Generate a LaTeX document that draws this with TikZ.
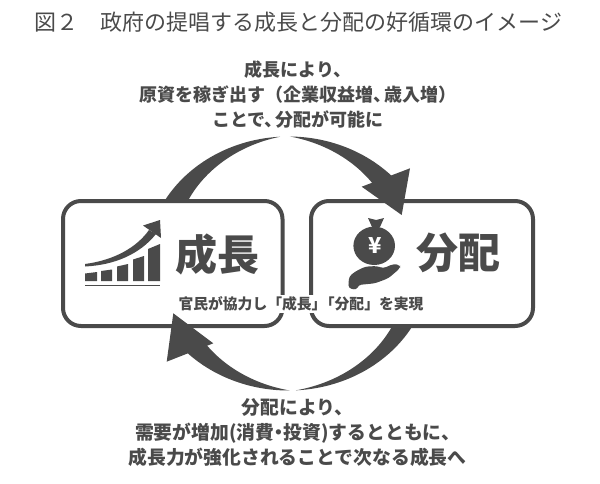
\documentclass[tikz,border=0pt]{standalone}
\usepackage{fontspec}
\setmainfont{Noto Sans CJK JP}
\usetikzlibrary{calc}
\definecolor{diagray}{HTML}{4A4A4A}
\def\ringx{288.5}
\def\ringy{219.5}
\def\ringa{142.5}
\def\ringb{127}
\def\crescent(#1:#2:#3){\fill[diagray] plot[domain=#1:#2,samples=60] ({\ringx+\ringa*cos(\x)},{\ringy+\ringb*sin(\x)}) -- plot[domain=#2:#1,samples=60] ({\ringx+(\ringa-#3*(\x-(#1))/((#2)-(#1)))*cos(\x)},{\ringy+(\ringb-#3*(\x-(#1))/((#2)-(#1)))*sin(\x)}) -- cycle;}
\tikzset{
	bigbox/.style={draw=diagray, line width=2pt, fill=white, rounded corners=9pt, minimum height=62.5pt, inner sep=0pt},
	caption/.style={text=diagray, align=center, font=\bfseries},
	biglabel/.style={text=diagray, font=\fontsize{21}{21}\selectfont\bfseries}
}
\begin{document}
\begin{tikzpicture}[x=0.5pt, y=0.5pt]
			%%%%% START %%%%%
			\useasboundingbox (0,0) rectangle (600,483);
			
			\node[text=diagray, font=\fontsize{11}{13}\selectfont] (title) at (298.5,461) {図２　政府の提唱する成長と分配の好循環のイメージ};
			
			% ring of arrows
			\crescent(93.4:158:24)
			\crescent(89.4:40:21.5)
			\crescent(-87:-22:20.5)
			\crescent(-89.4:-137:21)
			
			\node[bigbox, minimum width=109.75pt] (growbox) at (172.75,219.5) {};
			\node[bigbox, minimum width=111pt] (distbox) at (422,219.5) {};
			
			\fill[diagray] (361.7,296.3) -- (410,314.7) -- (401.7,268) -- cycle;
			\fill[diagray] (173.3,169.7) -- (166.7,121.3) -- (213.3,139.7) -- cycle;
			
			% growth chart
			\draw[diagray, line width=0.75pt] (85,197.5) -- (160,197.5);
			\fill[diagray] (85,202) -- (97,202) -- (97,211) -- (85,209.5) -- cycle;
			\fill[diagray] (101,202) -- (112,202) -- (112,213.5) -- (101,212) -- cycle;
			\fill[diagray] (117,202) -- (128,202) -- (128,219) -- (117,216.5) -- cycle;
			\fill[diagray] (133,202) -- (144,202) -- (144,227) -- (133,223.5) -- cycle;
			\fill[diagray] (148,202) -- (160,202) -- (160,239) -- (148,234) -- cycle;
			\fill[diagray] (85,219) .. controls (115,223) and (137,236) .. (149,253) -- (156,249) .. controls (140,229) and (115,218) .. (85,216.5) -- cycle;
			\fill[diagray] (160,263) -- (143,257.5) -- (161,245) -- cycle;
			
			% money bag and hand
			\fill[diagray] (374.2,237.2) ellipse [x radius=20.8, y radius=19.2];
			\fill[diagray] (368,265) -- (376,263) -- (384,265) -- (380,256) -- (372,256) -- cycle;
			\node[text=white, font=\fontsize{11}{11}\selectfont\bfseries] (yen) at (375,237) {¥};
			\fill[diagray, rounded corners=1.5] (348.3,195) -- (349,206.3) -- (355,211.3) -- (365,216.3) -- (376.7,217) -- (383.3,214.7) -- (393.3,219) -- (400,218) -- (400,214.7) -- (388.3,204.7) -- (375,199.7) -- (358.3,198) -- (356.7,193) -- cycle;
			
			\node[biglabel] (growlabel) at (217,229) {成長};
			\node[biglabel] (distlabel) at (458,230) {分配};
			\node[text=diagray, fill=white, inner sep=1pt, font=\fontsize{7.4}{8}\selectfont\bfseries] (joint) at (301,179) {官民が協力し「成長」\kern-.45em「分配」を実現};
			
			\node[caption, font=\fontsize{9}{12.5}\selectfont\bfseries] (topnote) at (298,388) {成長により、\\原資を稼ぎ出す（企業収益増、\kern-.4em 歳入増）\\ことで、\kern-.4em 分配が可能に};
			\node[caption, font=\fontsize{9.4}{12.5}\selectfont\bfseries] (bottomnote) at (297.5,50) {分配により、\\需要が増加(消費\kern-.25em・\kern-.25em 投資)するとともに、\\成長力が強化されることで次なる成長へ};
			%%%%% END %%%%%
\end{tikzpicture}
\end{document}
